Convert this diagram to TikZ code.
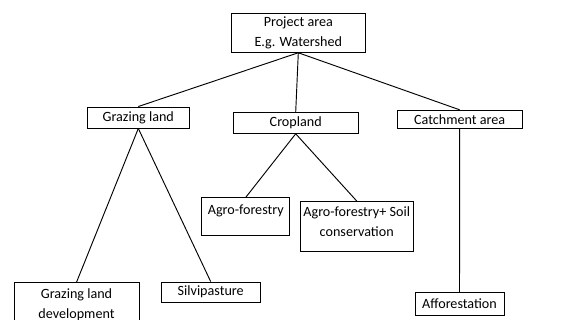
\documentclass[tikz,border=0pt]{standalone}
\usepackage{fontspec}
\setmainfont{Carlito}
\begin{document}
\begin{tikzpicture}[x=0.75pt, y=-0.75pt,
    box/.style={draw, line width=0.7pt, inner sep=0pt, align=center,
      font=\fontsize{10.6}{15}\selectfont},
    link/.style={line width=0.7pt}]
      % Fix the page size
      \useasboundingbox (0, 0) rectangle (573, 320);

      % Draw the project box
      \node[box, minimum width=100pt, minimum height=29.25pt] (project) at (298.3, 32.8)
        {Project area\\E.g. Watershed};

      % Draw the land use boxes
      \node[box, minimum width=76.5pt, minimum height=15.75pt] (grazing) at (138.3, 117.5) {Grazing land};
      \node[box, minimum width=94pt, minimum height=15.5pt] (cropland) at (295.7, 123) {Cropland};
      \node[box, minimum width=94pt, minimum height=13.8pt] (catchment) at (459.7, 119.5) {Catchment area};

      % Draw the measure boxes
      \node[box, anchor=north, minimum width=66.2pt, text height=12.4pt, text depth=15.9pt]
        (agro) at (245.8, 197.3) {Agro-forestry};
      \node[box, anchor=north, minimum width=85pt, text height=26.4pt, text depth=10.9pt]
        (agrosoil) at (356.7, 201) {Agro-forestry+ Soil\\conservation};
      \node[box, anchor=north, minimum width=93.75pt, text height=26.8pt, text depth=6pt]
        (grazingdev) at (76.5, 282.3) {Grazing land\\development};
      \node[box, minimum width=74pt, minimum height=15.2pt] (silvi) at (210.7, 292.2) {Silvipasture};
      \node[box, minimum width=66.75pt, minimum height=17.55pt] (affor) at (459.5, 304) {Afforestation};

      % Connect the boxes
      \draw[link] (project.south) -- (grazing.north);
      \draw[link] (project.south) -- (cropland.north);
      \draw[link] (project.south) -- (catchment.north);
      \draw[link] (grazing.south) -- (grazingdev.north);
      \draw[link] (grazing.south) -- (silvi.north);
      \draw[link] (cropland.south) -- (agro.north);
      \draw[link] (cropland.south) -- (agrosoil.north);
      \draw[link] (catchment.south) -- (affor.north);
    \end{tikzpicture}
\end{document}
